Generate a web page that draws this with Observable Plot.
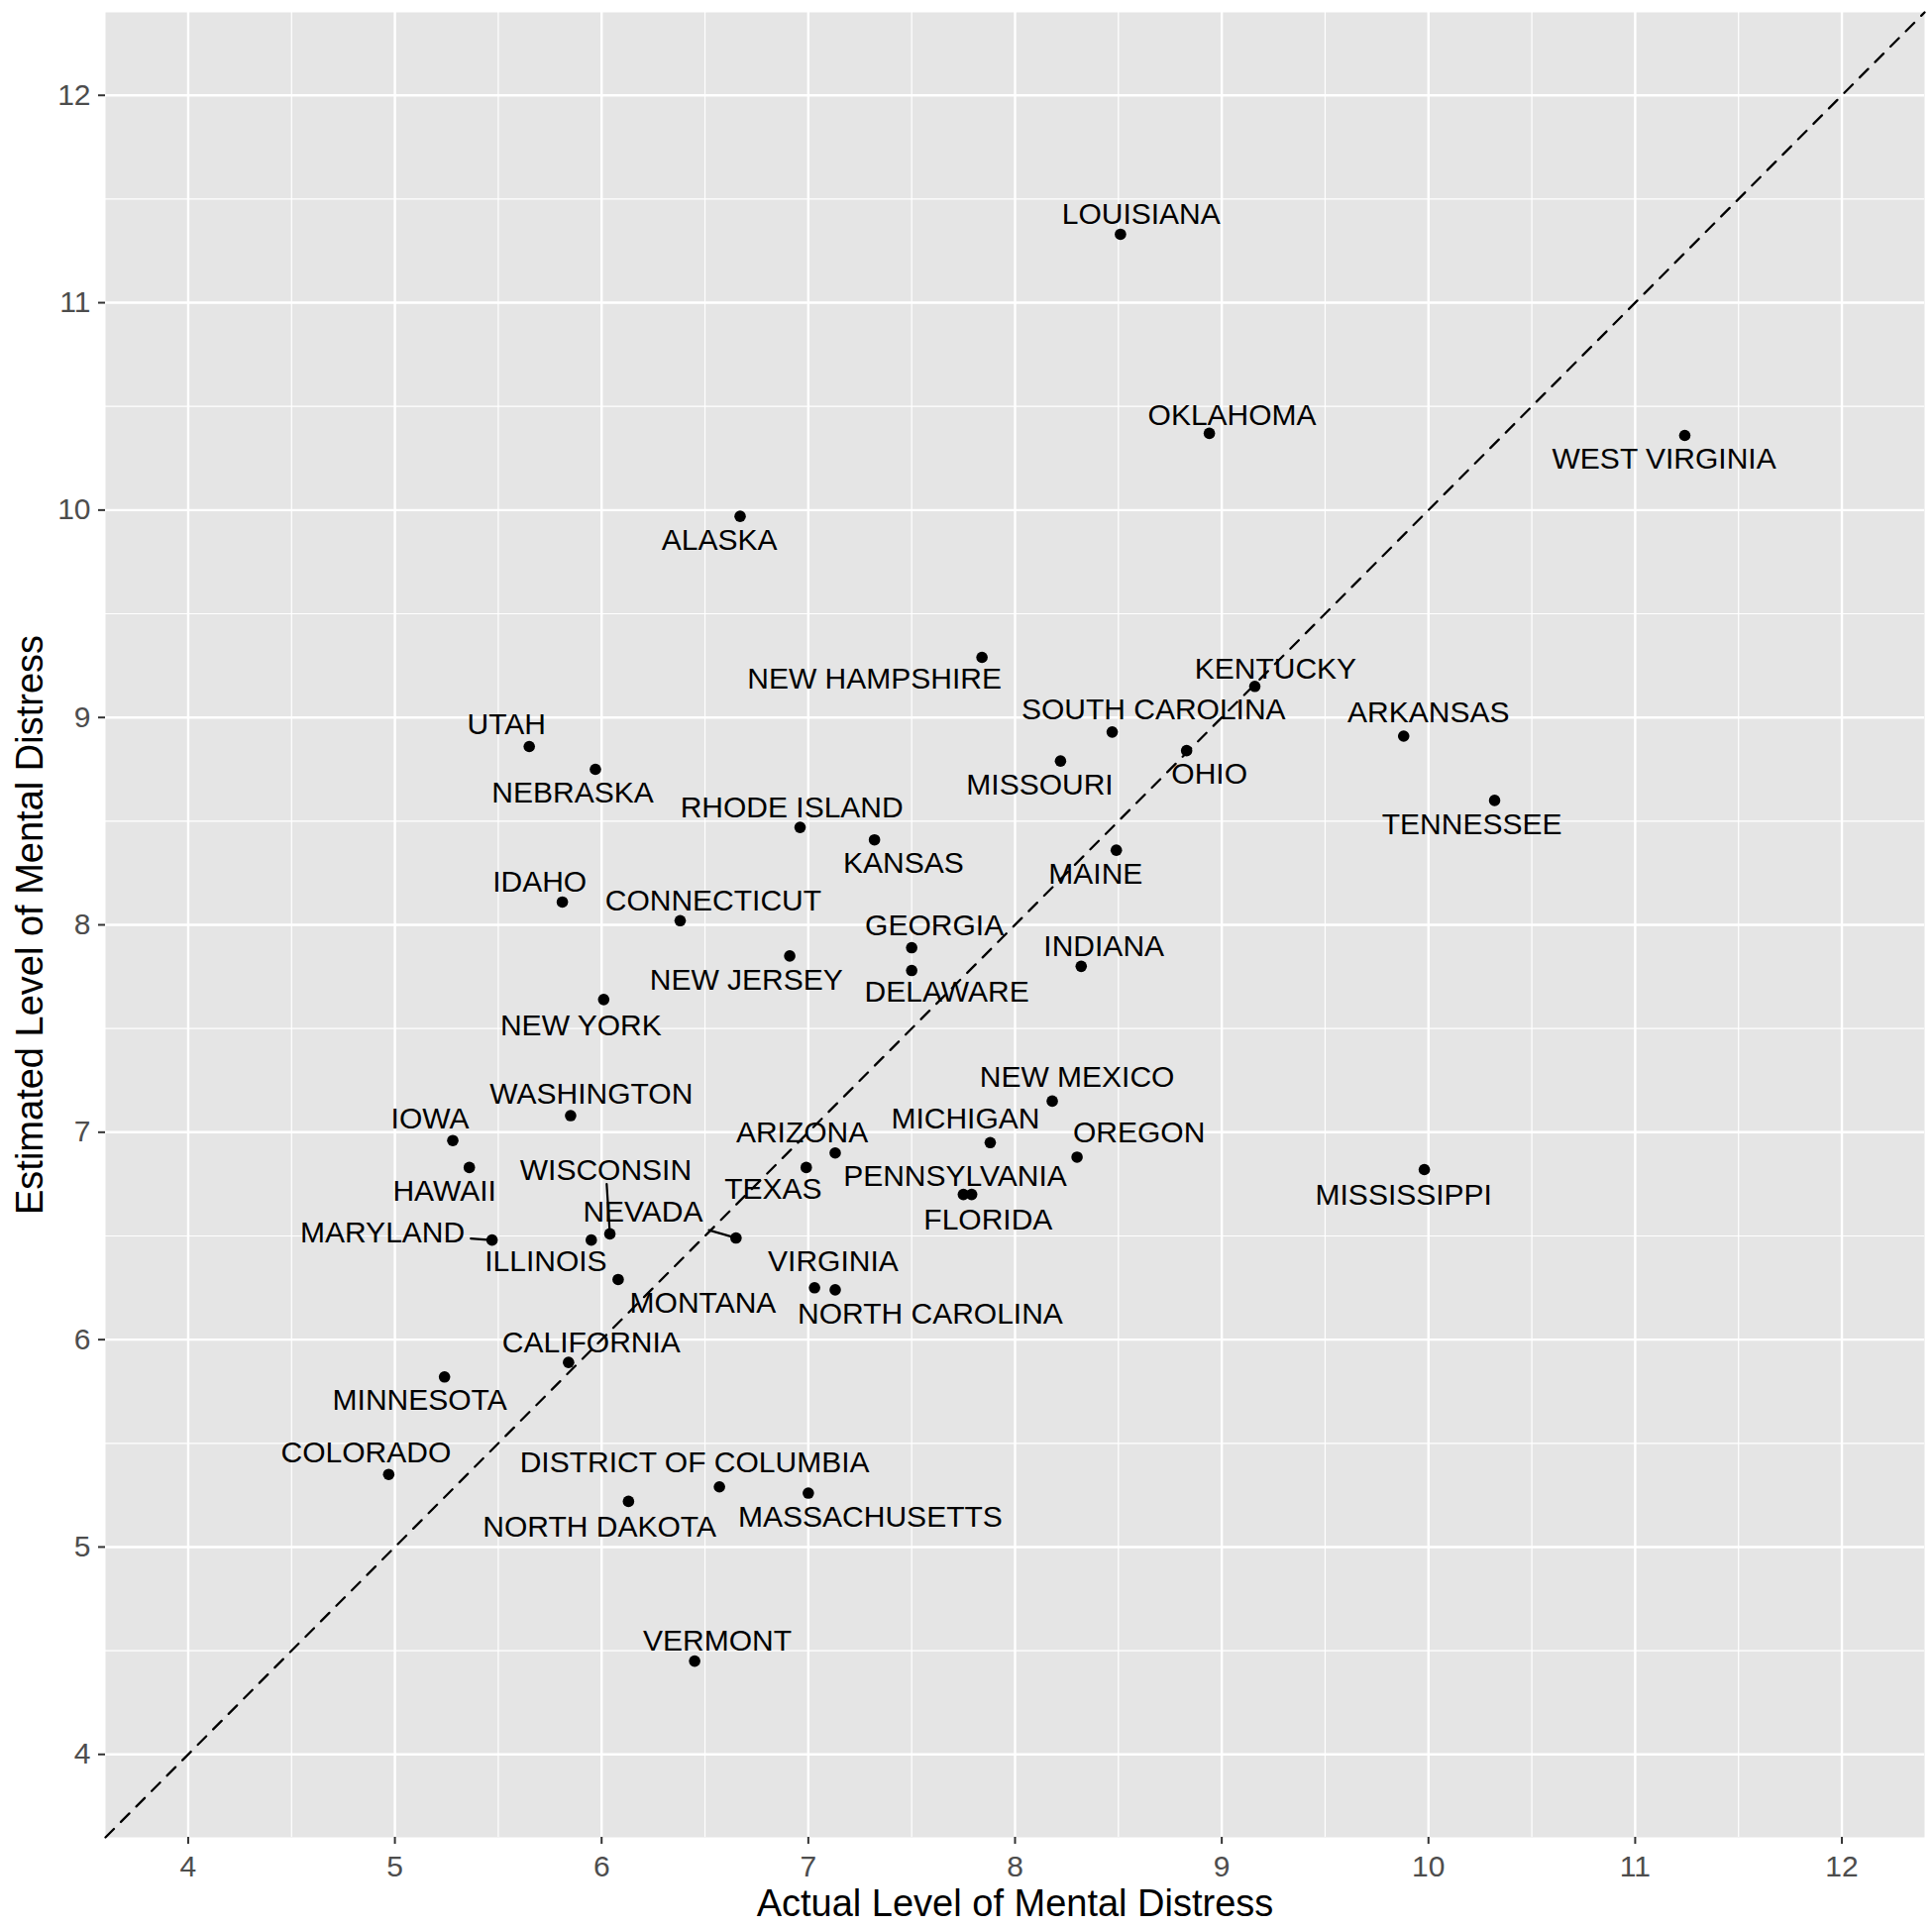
<!DOCTYPE html>
<html>
<head>
<meta charset="utf-8">
<script src="https://cdn.jsdelivr.net/npm/d3@7"></script>
<script src="https://cdn.jsdelivr.net/npm/@observablehq/plot@0.6"></script>
<style>
  html, body { margin: 0; padding: 0; background: #ffffff; }
  #chart { width: 1950px; height: 1945px; }
  #chart g[aria-label$="tick label"],
  #chart g[aria-label$="tick label"] text { font-size: 30px !important; }
</style>
</head>
<body>
<div id="chart"></div>
<script>
// ---- data ----
const states = ["LOUISIANA","OKLAHOMA","WEST VIRGINIA","ALASKA","NEW HAMPSHIRE","KENTUCKY","SOUTH CAROLINA","ARKANSAS","UTAH","OHIO","NEBRASKA","MISSOURI","TENNESSEE","RHODE ISLAND","KANSAS","MAINE","IDAHO","CONNECTICUT","NEW JERSEY","GEORGIA","DELAWARE","INDIANA","NEW YORK","NEW MEXICO","WASHINGTON","IOWA","MICHIGAN","ARIZONA","OREGON","HAWAII","TEXAS","MISSISSIPPI","PENNSYLVANIA","FLORIDA","MARYLAND","ILLINOIS","WISCONSIN","NEVADA","MONTANA","VIRGINIA","NORTH CAROLINA","CALIFORNIA","MINNESOTA","COLORADO","DISTRICT OF COLUMBIA","MASSACHUSETTS","NORTH DAKOTA","VERMONT"];
const actual = [8.51, 8.94, 11.24, 6.67, 7.84, 9.16, 8.47, 9.88, 5.65, 8.83, 5.97, 8.22, 10.32, 6.96, 7.32, 8.49, 5.81, 6.38, 6.91, 7.50, 7.50, 8.32, 6.01, 8.18, 5.85, 5.28, 7.88, 7.13, 8.30, 5.36, 6.99, 9.98, 7.75, 7.79, 5.47, 5.95, 6.04, 6.65, 6.08, 7.03, 7.13, 5.84, 5.24, 4.97, 6.57, 7.00, 6.13, 6.45];
const estimated = [11.33, 10.37, 10.36, 9.97, 9.29, 9.15, 8.93, 8.91, 8.86, 8.84, 8.75, 8.79, 8.60, 8.47, 8.41, 8.36, 8.11, 8.02, 7.85, 7.89, 7.78, 7.80, 7.64, 7.15, 7.08, 6.96, 6.95, 6.90, 6.88, 6.83, 6.83, 6.82, 6.70, 6.70, 6.48, 6.48, 6.51, 6.49, 6.29, 6.25, 6.24, 5.89, 5.82, 5.35, 5.29, 5.26, 5.22, 4.45];
// repelled label anchor positions (data units, as placed in the reference)
const labelX = [8.61, 9.05, 11.14, 6.57, 7.32, 9.26, 8.67, 10.00, 5.54, 8.94, 5.86, 8.12, 10.21, 6.92, 7.46, 8.39, 5.70, 6.54, 6.70, 7.61, 7.67, 8.43, 5.90, 8.30, 5.95, 5.17, 7.76, 6.97, 8.60, 5.24, 6.83, 9.88, 7.71, 7.87, 4.94, 5.73, 6.02, 6.20, 6.49, 7.12, 7.59, 5.95, 5.12, 4.86, 6.45, 7.30, 5.99, 6.56];
const labelY = [11.43, 10.46, 10.25, 9.86, 9.19, 9.24, 9.04, 9.03, 8.97, 8.73, 8.64, 8.68, 8.49, 8.57, 8.30, 8.25, 8.21, 8.12, 7.74, 8.00, 7.68, 7.90, 7.52, 7.27, 7.19, 7.07, 7.07, 7.00, 7.00, 6.72, 6.73, 6.70, 6.79, 6.58, 6.52, 6.38, 6.82, 6.62, 6.18, 6.38, 6.13, 5.99, 5.71, 5.46, 5.41, 5.15, 5.10, 4.55];
const leaderStates = ["MARYLAND", "WISCONSIN", "NEVADA"];
const axisDomain = [3.6, 12.4];
const majorTicks = [4, 5, 6, 7, 8, 9, 10, 11, 12];
const minorTicks = [4.5, 5.5, 6.5, 7.5, 8.5, 9.5, 10.5, 11.5];
const xTitle = "Actual Level of Mental Distress";
const yTitle = "Estimated Level of Mental Distress";

// ---- build table ----
const data = states.map((s, i) => ({
  state: s, x: actual[i], y: estimated[i], lx: labelX[i], ly: labelY[i]
}));

const W = 1950, H = 1945;
const M = {left: 106, right: 8, top: 12, bottom: 91};
const labelFont = 30;
const tickFont = 30;
const titleFont = 38;
const fontFamily = "'Liberation Sans', Arial, Helvetica, sans-serif";

// scales (same as Plot's) used to size the leader-segment gaps
const sx = Plot.scale({x: {domain: axisDomain, range: [M.left, W - M.right]}});
const sy = Plot.scale({y: {domain: axisDomain, range: [H - M.bottom, M.top]}});
const ctx = document.createElement("canvas").getContext("2d");
ctx.font = `${labelFont}px ${fontFamily}`;

const leaderMarks = leaderStates.map(name => {
  const d = data.find(r => r.state === name);
  const dx = sx.apply(d.x) - sx.apply(d.lx);
  const dy = sy.apply(d.y) - sy.apply(d.ly);
  const len = Math.hypot(dx, dy);
  const halfW = ctx.measureText(name).width / 2 + 6;
  const halfH = 14.5;
  const inset = Math.abs(dx) > Math.abs(dy)
    ? halfW / Math.abs(dx) * len
    : halfH / Math.abs(dy) * len;
  return Plot.arrow([d], {
    x1: "lx", y1: "ly", x2: "x", y2: "y",
    headLength: 0, insetStart: inset, insetEnd: 5,
    stroke: "black", strokeWidth: 2.2
  });
});

const chart = Plot.plot({
  width: W,
  height: H,
  marginLeft: M.left,
  marginRight: M.right,
  marginTop: M.top,
  marginBottom: M.bottom,
  style: {fontFamily, fontSize: `${tickFont}px`, background: "#ffffff", overflow: "visible"},
  x: {domain: axisDomain, label: null},
  y: {domain: axisDomain, label: null},
  marks: [
    Plot.frame({fill: "#E5E5E5", stroke: null}),
    Plot.gridX(minorTicks, {stroke: "#ffffff", strokeOpacity: 1, strokeWidth: 1.2}),
    Plot.gridY(minorTicks, {stroke: "#ffffff", strokeOpacity: 1, strokeWidth: 1.2}),
    Plot.gridX(majorTicks, {stroke: "#ffffff", strokeOpacity: 1, strokeWidth: 2.4}),
    Plot.gridY(majorTicks, {stroke: "#ffffff", strokeOpacity: 1, strokeWidth: 2.4}),
    Plot.axisX(majorTicks, {
      tickSize: 7, tickPadding: 11, fontSize: tickFont, label: null,
      tickFormat: d => `${d}`,
      stroke: "#333333", fill: "#4D4D4D", strokeWidth: 2
    }),
    Plot.axisY(majorTicks, {
      tickSize: 7, tickPadding: 8, fontSize: tickFont, label: null,
      tickFormat: d => `${d}`,
      stroke: "#333333", fill: "#4D4D4D", strokeWidth: 2
    }),
    Plot.line(axisDomain.map(v => ({x: v, y: v})), {
      x: "x", y: "y", stroke: "black", strokeWidth: 2.3, strokeDasharray: "12,10"
    }),
    ...leaderMarks,
    Plot.dot(data, {x: "x", y: "y", r: 5.8, fill: "black", stroke: null}),
    Plot.text(data, {
      x: "lx", y: "ly", text: "state", fontSize: labelFont, fill: "black",
      textAnchor: "middle", lineAnchor: "middle", dy: 1
    }),
    Plot.text([xTitle], {
      text: d => d, frameAnchor: "bottom", textAnchor: "middle", lineAnchor: "bottom", dy: 79,
      fontSize: titleFont, fill: "black"
    }),
    Plot.text([yTitle], {
      text: d => d, frameAnchor: "left", textAnchor: "middle", lineAnchor: "bottom",
      rotate: -90, dx: -64,
      fontSize: titleFont, fill: "black"
    })
  ]
});

document.getElementById("chart").appendChild(chart);
</script>
</body>
</html>
